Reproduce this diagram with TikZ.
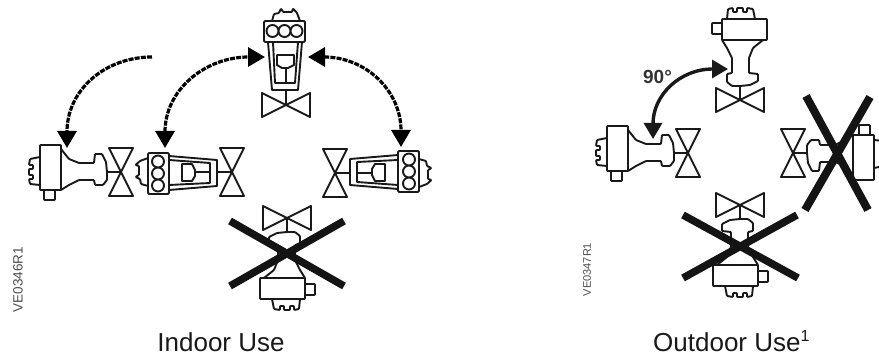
\documentclass[tikz,border=0pt]{standalone}
\usepackage{fontspec}
\setmainfont{Liberation Sans}
\usetikzlibrary{arrows.meta}
\tikzset{
  part/.style={draw=black!90,line width=1.9pt,line join=round,fill=none},
  crossbar/.style={draw=black!92,line width=7.5pt},
  dashedarc/.style={draw=black,line width=3.2pt,dash pattern=on 5pt off 1.2pt},
  solidarc/.style={draw=black!90,line width=3.4pt},
  caption/.style={anchor=base,inner sep=0pt,font=\fontsize{26}{28}\selectfont,text=black!90},
  codetext/.style={rotate=90,inner sep=0pt,text=black!70},
  pics/bowvalve/.style={code={
    \begin{scope}[y=1pt]
      \draw[part] (-24,12) -- (24,-12) -- (24,12) -- (-24,-12) -- cycle;
      \draw[part] (0,0) -- (0,14);
    \end{scope}}},
  pics/sideact/.style={code={
    \begin{scope}[y=1pt]
      \draw[part,rounded corners=0.8pt] (0,14) -- (-8,14) -- (-13,18) -- (-13,26) -- (-8,27) -- (-8,42)
        -- (-13,52) -- (-18,60) -- (-18,81) -- (27,81) -- (27,60) -- (23,60) -- (13,52) -- (9,42)
        -- (9,27) -- (18,26) -- (18,19) -- (10,15) -- cycle;
      \draw[part] (-18,60) -- (27,60);
      \draw[part,rounded corners=0.8pt] (-18,77) -- (-28,77) -- (-28,66) -- (-18,66);
      \draw[part,rounded corners=0.8pt] (-13,81) -- (-12,91) -- (-7,92) -- (-7,88) -- (-3,88) -- (-3,92)
        -- (3,92) -- (3,88) -- (7,88) -- (7,92) -- (13,91) -- (15,81);
    \end{scope}}},
  pics/frontact/.style={code={
    \begin{scope}[y=1pt]
      \draw[part,rounded corners=1.2pt] (-22,63) -- (-22,84) -- (19,84) -- (19,63) -- cycle;
      \draw[part] (-18,63) -- (-14,15) -- (12,15) -- (16,63);
      \draw[part] (-13,63) -- (-11,22) -- (9,22) -- (12,63);
      \draw[part] (-9,50) -- (8,50) -- (8,40) -- (2,37) -- (-4,37) -- (-9,40) -- cycle;
      \draw[part] (0,37) -- (0,22);
      \draw[part] (0,15) -- (0,0);
      \draw[part] (-13.5,74) circle (6pt) (-1.5,74) circle (6pt) (10.5,74) circle (6pt);
      \draw[part,rounded corners=0.8pt] (-14,84) -- (-12,91) -- (-7,92) -- (-5,96.5) -- (-3,93) -- (6,93)
        -- (7,96.5) -- (11,92) -- (14,84);
    \end{scope}}}
}
\begin{document}
\begin{tikzpicture}[x=1pt,y=-1pt]
\useasboundingbox (0,0) rectangle (879,358);
% Indoor valves
\pic (va) at (286,105) {bowvalve};
\pic (aa) at (286,105) {frontact};
\pic[rotate=90] (vb) at (232,172) {bowvalve};
\pic[rotate=90] (ab) at (232,172) {frontact};
\pic[rotate=90] (vc) at (121,172) {bowvalve};
\pic[rotate=90] (ac) at (121,172) {sideact};
\pic[rotate=-90] (vd) at (335,173) {bowvalve};
\pic[rotate=-90] (ad) at (335,173) {frontact};
\pic[rotate=180] (ve) at (287,218) {bowvalve};
\pic[rotate=180] (ae) at (287,218) {sideact};
% Outdoor valves
\pic (vf) at (740,100) {bowvalve};
\pic (af) at (740,100) {sideact};
\pic[rotate=90] (vg) at (688,153) {bowvalve};
\pic[rotate=90] (ag) at (688,153) {sideact};
\pic[rotate=-90] (vh) at (793,153) {bowvalve};
\pic[rotate=-90] (ah) at (793,153) {sideact};
\pic[rotate=180] (vi) at (740,205) {bowvalve};
\pic[rotate=180] (ai) at (740,205) {sideact};
% Arrow end points
\coordinate (s1) at (152,57);
\coordinate (t1) at (67,148);
\coordinate (s2) at (165,148);
\coordinate (t2) at (265,57);
\coordinate (s3) at (308,57);
\coordinate (t3) at (401,147);
\coordinate (s4) at (728,69);
\coordinate (t4) at (653,139);
\draw[dashedarc,-{Triangle[length=17pt,width=19pt]}] (s1) .. controls (105,57) and (67,90) .. (t1);
\draw[dashedarc,{Triangle[length=17pt,width=19pt]}-{Triangle[length=17pt,width=19pt]}] (s2) .. controls (165,90) and (205,57) .. (t2);
\draw[dashedarc,{Triangle[length=17pt,width=19pt]}-{Triangle[length=17pt,width=19pt]}] (s3) .. controls (365,57) and (401,90) .. (t3);
\draw[solidarc,{Triangle[length=16pt,width=18pt]}-{Triangle[length=16pt,width=18pt]}] (s4) .. controls (680,69) and (653,95) .. (t4);
% Crosses
\coordinate (xa1) at (230,221); \coordinate (xa2) at (344,286);
\coordinate (xa3) at (230,286); \coordinate (xa4) at (344,221);
\draw[crossbar] (xa1) -- (xa2);
\draw[crossbar] (xa3) -- (xa4);
\coordinate (xb1) at (683,215); \coordinate (xb2) at (798,278);
\coordinate (xb3) at (683,278); \coordinate (xb4) at (797,215);
\draw[crossbar] (xb1) -- (xb2);
\draw[crossbar] (xb3) -- (xb4);
\coordinate (xc1) at (806,96); \coordinate (xc2) at (868,210);
\coordinate (xc3) at (870,97); \coordinate (xc4) at (805,210);
\draw[crossbar,line width=8pt] (xc1) -- (xc2);
\draw[crossbar,line width=8pt] (xc3) -- (xc4);
% Text
\node[inner sep=0pt,text=black!80,font=\bfseries\fontsize{19}{20}\selectfont] (deg) at (657.5,77) {90°};
\node[codetext,font=\fontsize{13.5}{14}\selectfont] (codea) at (18,279.5) {VE0346R1};
\node[codetext,font=\fontsize{11}{12}\selectfont] (codeb) at (587,269.5) {VE0347R1};
\node[caption] (capa) at (221,352) {Indoor Use};
\node[caption,anchor=base west] (capb) at (653,352) {Outdoor Use\raisebox{10pt}{\fontsize{16}{16}\selectfont 1}};
\end{tikzpicture}
\end{document}
